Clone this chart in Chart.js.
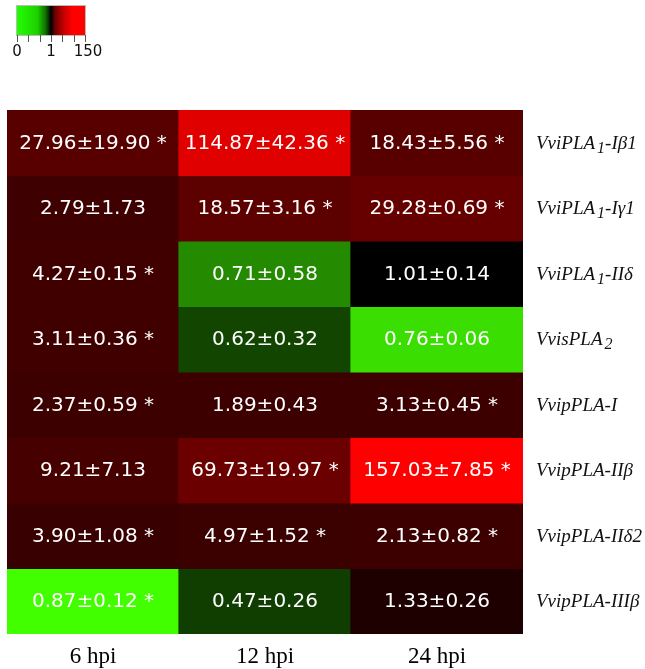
<!DOCTYPE html>
<html>
<head>
<meta charset="utf-8">
<script src="https://cdn.jsdelivr.net/npm/chart.js@4/dist/chart.umd.min.js"></script>
<style>
  html, body { margin: 0; background: #fff; }
  canvas { display: block; }
</style>
</head>
<body>
<canvas id="heat" width="645" height="669"></canvas>
<script>
// time points (columns) and genes (rows, top to bottom); "_n" marks a subscript
const timepoints = ["6 hpi", "12 hpi", "24 hpi"];
const genes = [
  "VviPLA_1-Iβ1", "VviPLA_1-Iγ1", "VviPLA_1-IIδ", "VvisPLA_2",
  "VvipPLA-I", "VvipPLA-IIβ", "VvipPLA-IIδ2", "VvipPLA-IIIβ"
];

// relative expression, mean ± sd, and significance flag per time point
const hpi6Mean = [27.96, 2.79, 4.27, 3.11, 2.37, 9.21, 3.90, 0.87];
const hpi6Sd   = [19.90, 1.73, 0.15, 0.36, 0.59, 7.13, 1.08, 0.12];
const hpi6Sig  = [1, 0, 1, 1, 1, 0, 1, 1];

const hpi12Mean = [114.87, 18.57, 0.71, 0.62, 1.89, 69.73, 4.97, 0.47];
const hpi12Sd   = [42.36, 3.16, 0.58, 0.32, 0.43, 19.97, 1.52, 0.26];
const hpi12Sig  = [1, 1, 0, 0, 0, 1, 1, 0];

const hpi24Mean = [18.43, 29.28, 1.01, 0.76, 3.13, 157.03, 2.13, 1.33];
const hpi24Sd   = [5.56, 0.69, 0.14, 0.06, 0.45, 7.85, 0.82, 0.26];
const hpi24Sig  = [1, 1, 0, 0, 1, 1, 1, 0];

// heat level of each cell: -1 full green, 0 black, +1 full red
const hpi6Level  = [0.345, 0.245, 0.25, 0.25, 0.235, 0.28, 0.22, -1.0];
const hpi12Level = [0.88, 0.36, -0.54, -0.27, 0.235, 0.42, 0.23, -0.24];
const hpi24Level = [0.345, 0.40, 0.0, -0.87, 0.24, 1.0, 0.235, 0.12];

// colour key
const keyLabels = ["0", "1", "150"];

const means = [hpi6Mean, hpi12Mean, hpi24Mean];
const sds = [hpi6Sd, hpi12Sd, hpi24Sd];
const sigs = [hpi6Sig, hpi12Sig, hpi24Sig];
const levels = [hpi6Level, hpi12Level, hpi24Level];

function shade(level) {
  if (level >= 0) return `rgb(${Math.round(255 * level)},0,0)`;
  const g = Math.round(255 * -level);
  return `rgb(${Math.round(g * 0.26)},${g},0)`;
}

// one floating-bar dataset per gene row, each spanning [row, row + 1]
const datasets = genes.map((g, r) => ({
  label: g,
  data: timepoints.map(() => [r, r + 1]),
  backgroundColor: timepoints.map((t, c) => shade(levels[c][r])),
  borderWidth: 0,
  inflateAmount: 0.6,
  barPercentage: 1,
  categoryPercentage: 1,
  grouped: false,
}));

const cellText = {
  id: "cellText",
  afterDatasetsDraw(chart) {
    const ctx = chart.ctx;
    ctx.save();
    ctx.font = '20px "DejaVu Sans"';
    ctx.fillStyle = "#fff";
    ctx.textAlign = "center";
    ctx.textBaseline = "middle";
    chart.data.datasets.forEach((ds, r) => {
      chart.getDatasetMeta(r).data.forEach((bar, c) => {
        const p = bar.getCenterPoint();
        const txt = means[c][r].toFixed(2) + "±" + sds[c][r].toFixed(2) + (sigs[c][r] ? " *" : "");
        ctx.fillText(txt, p.x, p.y + 1);
      });
    });
    ctx.restore();
  }
};

const geneLabels = {
  id: "geneLabels",
  afterDraw(chart) {
    const ctx = chart.ctx;
    const y = chart.scales.y;
    const x0 = chart.chartArea.right + 13;
    ctx.save();
    ctx.fillStyle = "#111";
    ctx.textBaseline = "alphabetic";
    ctx.textAlign = "left";
    genes.forEach((name, r) => {
      const base = y.getPixelForValue(r + 0.5) + 6;
      let x = x0;
      name.split(/(_\d)/).forEach(part => {
        if (!part) return;
        if (part[0] === "_") {
          ctx.font = 'italic 16px "Liberation Serif"';
          ctx.fillText(part.slice(1), x + 2, base + 4);
          x += ctx.measureText(part.slice(1)).width + 2;
        } else {
          ctx.font = 'italic 19px "Liberation Serif"';
          ctx.fillText(part, x, base);
          x += ctx.measureText(part).width;
        }
      });
    });
    ctx.restore();
  }
};

const colorKey = {
  id: "colorKey",
  afterDraw(chart) {
    const ctx = chart.ctx;
    const left = 17, right = 85, top = 6, bottom = 35;
    ctx.save();
    const grad = ctx.createLinearGradient(left, 0, right, 0);
    grad.addColorStop(0, "#22ff00");
    grad.addColorStop(0.3, "#1ed000");
    grad.addColorStop(0.42, "#0e7000");
    grad.addColorStop(0.5, "#000000");
    grad.addColorStop(0.56, "#700000");
    grad.addColorStop(0.7, "#cc0000");
    grad.addColorStop(0.82, "#ff0000");
    grad.addColorStop(1, "#ff0000");
    ctx.fillStyle = grad;
    ctx.fillRect(left, top, right - left, bottom - top);
    ctx.strokeStyle = "#bbb";
    ctx.lineWidth = 1;
    ctx.strokeRect(left - 0.5, top - 0.5, right - left + 1, bottom - top + 1);
    ctx.strokeStyle = "#555";
    ctx.beginPath();
    for (let i = 0; i <= 6; i++) {
      const tx = Math.round(left + (right - left) * i / 6) + 0.5;
      ctx.moveTo(tx, bottom);
      ctx.lineTo(tx, bottom + 7);
    }
    ctx.stroke();
    ctx.fillStyle = "#111";
    ctx.font = '15px "DejaVu Sans"';
    ctx.textAlign = "center";
    ctx.textBaseline = "middle";
    const pos = [left, (left + right) / 2, right + 3];
    keyLabels.forEach((t, i) => ctx.fillText(t, pos[i], 52));
    ctx.restore();
  }
};

new Chart(document.getElementById("heat"), {
  type: "bar",
  data: { labels: timepoints, datasets },
  options: {
    responsive: false,
    animation: false,
    layout: { padding: { left: 7, top: 110, right: 122, bottom: 0 } },
    plugins: { legend: { display: false }, tooltip: { enabled: false } },
    scales: {
      x: {
        grid: { display: false, drawTicks: false },
        border: { display: false },
        ticks: { color: "#000", font: { family: "Liberation Serif", size: 23 }, padding: 9 },
        afterFit(scale) { scale.height = 35; }
      },
      y: { type: "linear", min: 0, max: 8, reverse: true, display: false }
    }
  },
  plugins: [cellText, geneLabels, colorKey]
});
</script>
</body>
</html>
